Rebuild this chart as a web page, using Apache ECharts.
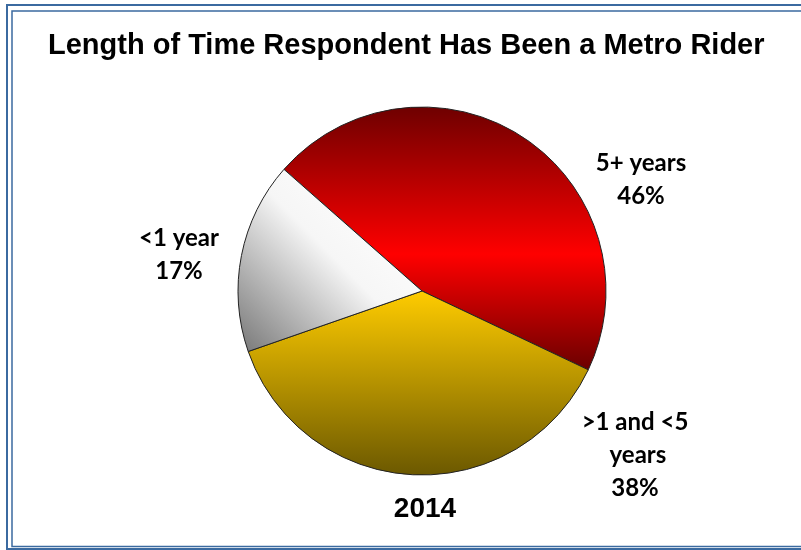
<!DOCTYPE html>
<html lang="en">
<head>
    <meta charset="UTF-8">
    <title>Metro Rider</title>
    <script src="https://cdn.jsdelivr.net/npm/echarts@6/dist/echarts.min.js"></script>
</head>
<body style="margin:0;">

<div id="pie_wrap" style="width: 801px; height: 550px;"></div>

<script>
    // categories and values (percent), clockwise from the top
    var categories = ["5+ years", ">1 and <5 years", "<1 year"];
    var values = [46, 38, 17];
    var year_label = "2014";

    var pie_obj = document.getElementById("pie_wrap");
    var myPie = echarts.init(pie_obj);

    function grad(x, y, x2, y2, stops) {
        return new echarts.graphic.LinearGradient(x, y, x2, y2, stops);
    }

    var fills = [
        grad(0, 0, 0, 1, [
            {offset: 0, color: "#6e0000"},
            {offset: 0.56, color: "#ff0000"},
            {offset: 1, color: "#6a0000"}
        ]),
        grad(0, 0, 0, 1, [
            {offset: 0, color: "#ffcc00"},
            {offset: 1, color: "#6b5800"}
        ]),
        grad(0.9, 0.15, 0.05, 1, [
            {offset: 0, color: "#ffffff"},
            {offset: 0.42, color: "#f6f6f6"},
            {offset: 1, color: "#7c7c7c"}
        ])
    ];

    // where the labels sit (centre of each label block)
    var label_pos = [[641, 180], [635, 455], [179, 255]];

    var pie_data = [];
    for (var i = 0; i < categories.length; i++) {
        pie_data.push({
            name: categories[i],
            value: values[i],
            itemStyle: {color: fills[i]}
        });
    }

    var option = {
        animation: false,
        title: {
            text: "Length of Time Respondent Has Been a Metro Rider",
            left: 48,
            top: 31,
            padding: 0,
            textStyle: {
                fontFamily: "Liberation Sans, Arial",
                fontWeight: "bold",
                fontSize: 29,
                color: "#000"
            }
        },
        graphic: [
            {
                type: "rect",
                shape: {x: 7, y: 5, width: 810, height: 544},
                style: {fill: null, stroke: "#3b6aa0", lineWidth: 2}
            },
            {
                type: "rect",
                shape: {x: 12, y: 11, width: 810, height: 535.5},
                style: {fill: null, stroke: "#3b6aa0", lineWidth: 1.5}
            },
            {
                type: "text",
                x: 425,
                y: 509,
                style: {
                    text: year_label,
                    fontFamily: "Liberation Sans, Arial",
                    fontWeight: "bold",
                    fontSize: 28,
                    fill: "#000",
                    align: "center",
                    verticalAlign: "middle"
                }
            }
        ],
        series: [
            {
                type: "pie",
                center: [422, 291],
                radius: 184,
                startAngle: 138.6,
                clockwise: true,
                data: pie_data,
                itemStyle: {
                    borderColor: "#222",
                    borderWidth: 1
                },
                labelLine: {show: false},
                label: {
                    show: true,
                    position: "outside",
                    formatter: "{b}\n{c}%",
                    width: 110,
                    overflow: "break",
                    fontFamily: "Lato",
                    fontWeight: "bold",
                    fontSize: 24,
                    lineHeight: 33,
                    color: "#000",
                    align: "center"
                },
                labelLayout: function (params) {
                    var p = label_pos[params.dataIndex];
                    return {x: p[0], y: p[1], align: "center", verticalAlign: "middle"};
                },
                emphasis: {disabled: true}
            }
        ]
    };

    myPie.setOption(option);
</script>
</body>
</html>
